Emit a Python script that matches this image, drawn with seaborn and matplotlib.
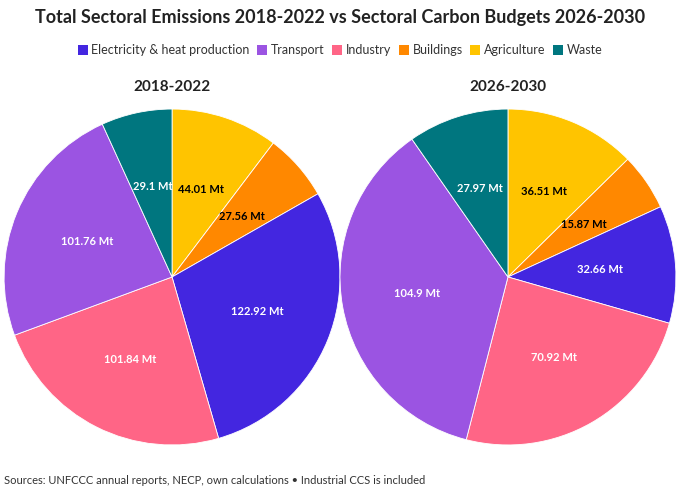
import pandas as pd
import seaborn as sns
import matplotlib.pyplot as plt
from matplotlib.patches import Patch

# data, in clockwise order from 12 o'clock
sectors = ["Agriculture", "Buildings", "Electricity & heat production", "Industry", "Transport", "Waste"]
emissions_2018_2022 = [44.01, 27.56, 122.92, 101.84, 101.76, 29.1]
budgets_2026_2030 = [36.51, 15.87, 32.66, 70.92, 104.9, 27.97]
legend_order = ["Electricity & heat production", "Transport", "Industry", "Buildings", "Agriculture", "Waste"]

colors = {
    "Electricity & heat production": "#4326e0",
    "Transport": "#9b54e2",
    "Industry": "#ff6586",
    "Buildings": "#ff8800",
    "Agriculture": "#ffc400",
    "Waste": "#00767f",
}
dark_label = {"Agriculture", "Buildings"}

sns.set_theme(style="white")
plt.rcParams["font.family"] = ["Lato", "DejaVu Sans"]

df = pd.DataFrame({"sector": sectors, "2018-2022": emissions_2018_2022, "2026-2030": budgets_2026_2030})

fig = plt.figure(figsize=(6.8, 4.92), dpi=100)
fig.patch.set_facecolor("white")

positions = {"2018-2022": [0.006, 0.0955, 0.494, 0.683], "2026-2030": [0.5, 0.0955, 0.494, 0.683]}

for period, rect in positions.items():
    ax = fig.add_axes(rect)
    vals = df[period].tolist()
    wedges, texts = ax.pie(vals, colors=[colors[s] for s in df["sector"]], startangle=90,
                           counterclock=False, labels=[f"{v:g} Mt" for v in vals],
                           labeldistance=0.55, wedgeprops={"linewidth": 0.6, "edgecolor": "white"},
                           textprops={"fontsize": 8, "fontweight": "bold", "ha": "center", "va": "center"})
    for t, s in zip(texts, df["sector"]):
        t.set_color("black" if s in dark_label else "white")
    ax.set_xlim(-1.0, 1.0)
    ax.set_ylim(-1.0, 1.0)
    ax.set_aspect("equal")
    cx = rect[0] + rect[2] / 2
    fig.text(cx, 1 - 87 / 492, period, ha="center", va="center", fontsize=11, fontweight="bold", color="#222222")

fig.text(0.5, 1 - 17 / 492, "Total Sectoral Emissions 2018-2022 vs Sectoral Carbon Budgets 2026-2030",
         ha="center", va="center", fontsize=13, fontweight="bold", color="#222222")

handles = [Patch(facecolor=colors[s], edgecolor="none", label=s) for s in legend_order]
fig.legend(handles=handles, loc="center", bbox_to_anchor=(0.5, 1 - 50 / 492), ncol=6, frameon=False,
           fontsize=9, handlelength=0.8, handleheight=0.9, handletextpad=0.3, columnspacing=0.6,
           labelcolor="#333333")

fig.text(0.006, 1 - 480 / 492, "Sources: UNFCCC annual reports, NECP, own calculations \u2022 Industrial CCS is included",
         ha="left", va="center", fontsize=8, color="#333333")

fig.savefig("out.png", dpi=100, facecolor="white")
